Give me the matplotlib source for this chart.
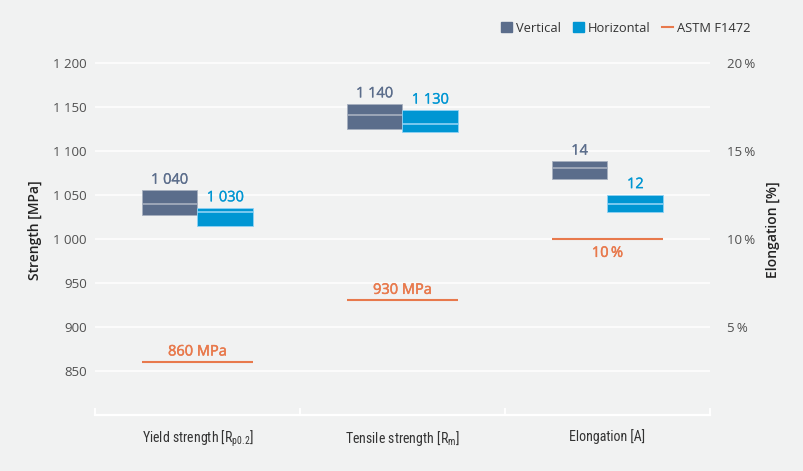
import matplotlib
matplotlib.use("Agg")
import matplotlib.pyplot as plt
import matplotlib.patheffects as pe
from matplotlib import font_manager
from matplotlib.lines import Line2D
from matplotlib.patches import Patch

# ---------------- data ----------------
categories = ["Yield strength [R$_\\mathregular{p0.2}$]",
              "Tensile strength [R$_\\mathregular{m}$]",
              "Elongation [A]"]
# strength groups (MPa)
vert_low = [1027, 1125]
vert_high = [1055, 1153]
vert_mid = [1040, 1140]
hor_low = [1015, 1121]
hor_high = [1035, 1146]
hor_mid = [1030, 1130]
astm_strength = [860, 930]
# elongation group (%)
el_vert = (13.4, 14.4, 14)
el_hor = (11.5, 12.5, 12)
astm_el = 10
vert_labels = ["1 040", "1 140", "14"]
hor_labels = ["1 030", "1 130", "12"]
astm_labels = ["860 MPa", "930 MPa", "10\u2009%"]
left_ticks = [850, 900, 950, 1000, 1050, 1100, 1150, 1200]
right_ticks = [5, 10, 15, 20]

# ---------------- style ----------------
names = {f.name for f in font_manager.fontManager.ttflist}
base = "Open Sans" if "Open Sans" in names else "DejaVu Sans"
narrow = base
for cand in ["Liberation Sans Narrow", "Roboto Condensed", "Open Sans Condensed",
             "DejaVu Sans Condensed", "Noto Sans Condensed"]:
    if cand in names:
        narrow = cand
        break
plt.rcParams['font.family'] = [base, 'DejaVu Sans']
plt.rcParams['mathtext.fontset'] = 'custom'
plt.rcParams['mathtext.rm'] = narrow

BG = "#f1f2f2"
C_V = "#5b6d8b"
C_H = "#0096d3"
C_A = "#e8794c"
MED_V = "#a7b0bf"
MED_H = "#8fd2f4"
TXT = "#505050"

fig = plt.figure(figsize=(8.04, 4.71), dpi=100, facecolor=BG)
ax = fig.add_axes([95/804, 1-415/471, 615/804, (415-45)/471])
ax.set_facecolor(BG)
ax2 = ax.twinx()

ymin, ymax = 800, 1220
ax.set_ylim(ymin, ymax)
ax2.set_ylim((ymin-1000)/20+10, (ymax-1000)/20+10)
ax.set_xlim(-0.5, 2.5)
ax2.set_xlim(-0.5, 2.5)

w = 0.272
for a in (ax, ax2):
    for s in a.spines.values():
        s.set_visible(False)

# grid
for v in left_ticks:
    ax.axhline(v, color="white", lw=1.1, zorder=0)
ax.axhline(ymin, color="white", lw=1.6, zorder=0, clip_on=False)

def box(a, x, lo, hi, mid, col, medc):
    a.bar(x, hi-lo, bottom=lo, width=w, align='center',
          color=col, edgecolor=medc, lw=0.6, zorder=3)
    a.plot([x-w/2, x+w/2], [mid, mid], color=medc, lw=1.2, zorder=4,
           solid_capstyle='butt')

def lbl(a, x, y, s, col, va, sw):
    t = a.text(x, y, s, color=col, va=va, ha='center', fontsize=10.5,
               fontweight='normal', zorder=5)
    t.set_path_effects([pe.Stroke(linewidth=sw, foreground=col), pe.Normal()])

for i in range(2):
    xv, xh = i - w/2, i + w/2
    box(ax, xv, vert_low[i], vert_high[i], vert_mid[i], C_V, MED_V)
    box(ax, xh, hor_low[i], hor_high[i], hor_mid[i], C_H, MED_H)
    lbl(ax, xv, vert_high[i]+3, vert_labels[i], C_V, 'bottom', 0.2)
    lbl(ax, xh, hor_high[i]+3, hor_labels[i], C_H, 'bottom', 0.2)
    ax.plot([i-w, i+w], [astm_strength[i]]*2, color=C_A, lw=1.5, zorder=3,
            solid_capstyle='butt')
    lbl(ax, i, astm_strength[i]+3, astm_labels[i], C_A, 'bottom', 0.35)

# elongation on right axis
i = 2
xv, xh = i - w/2, i + w/2
box(ax2, xv, el_vert[0], el_vert[1], el_vert[2], C_V, MED_V)
box(ax2, xh, el_hor[0], el_hor[1], el_hor[2], C_H, MED_H)
lbl(ax2, xv, el_vert[1]+0.15, vert_labels[2], C_V, 'bottom', 0.2)
lbl(ax2, xh, el_hor[1]+0.15, hor_labels[2], C_H, 'bottom', 0.2)
ax2.plot([i-w, i+w], [astm_el]*2, color=C_A, lw=1.5, zorder=3, solid_capstyle='butt')
lbl(ax2, i, astm_el-0.4, astm_labels[2], C_A, 'top', 0.35)

# ticks
ax.set_yticks(left_ticks)
ax.set_yticklabels([f"{v:,}".replace(",", " ") for v in left_ticks])
ax.tick_params(axis='y', length=0, pad=6, labelsize=9.5, labelcolor=TXT)
ax2.set_yticks(right_ticks)
ax2.set_yticklabels([f"{v}\u2009%" for v in right_ticks])
ax2.tick_params(axis='y', length=0, pad=12, labelsize=9.5, labelcolor=TXT)

ax.set_xticks([-0.5, 0.5, 1.5, 2.5])
ax.set_xticklabels([])
ax.set_xticks([0, 1, 2], minor=True)
ax.set_xticklabels(categories, minor=True, fontsize=10, color="#333333", family=narrow)
ax.tick_params(axis='x', which='major', direction='in', length=5, width=1.4, color='white')
ax.tick_params(axis='x', which='minor', length=0, pad=10)
ax2.tick_params(axis='x', length=0)

ax.set_ylabel("Strength [MPa]", fontsize=10, fontweight='semibold', color="#222222", labelpad=8)
ax2.set_ylabel("Elongation [%]", fontsize=10, fontweight='semibold', color="#222222",
               rotation=90, labelpad=8)

handles = [Patch(facecolor=C_V, edgecolor=C_V),
           Patch(facecolor=C_H, edgecolor=C_H),
           Line2D([0], [0], color=C_A, lw=1.5)]
leg = fig.legend(handles, ["Vertical", "Horizontal", "ASTM F1472"], loc='center right',
                 bbox_to_anchor=(0.933, 1-28/471), ncol=3, frameon=False, fontsize=9.3,
                 handlelength=0.85, handleheight=0.85, handletextpad=0.3, columnspacing=0.9,
                 borderaxespad=0, borderpad=0)
for t in leg.get_texts():
    t.set_color("#333333")

fig.savefig("out.png", dpi=100, facecolor=BG)
